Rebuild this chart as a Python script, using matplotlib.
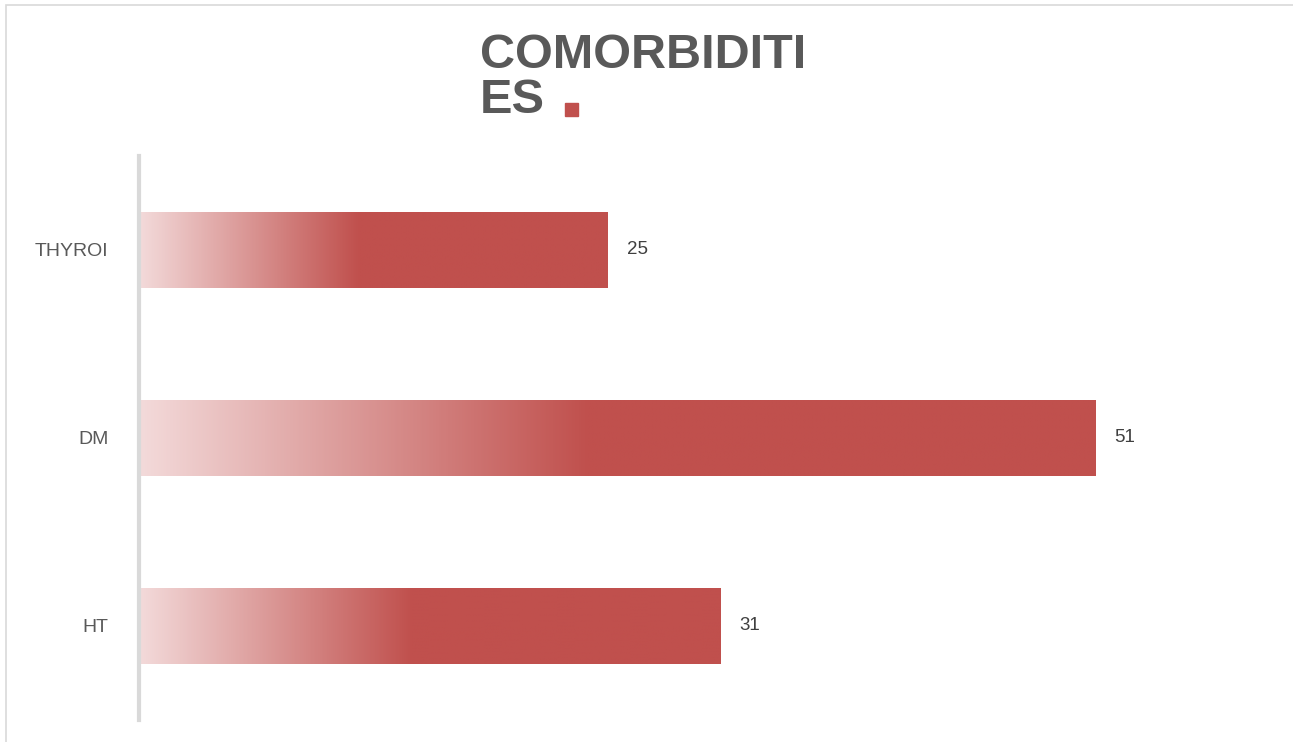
import numpy as np
import matplotlib
matplotlib.use("Agg")
import matplotlib.pyplot as plt
from matplotlib.colors import LinearSegmentedColormap
from matplotlib.patches import Rectangle

# data
categories = ["HT", "DM", "THYROI"]
values = [31, 51, 25]

plt.rcParams['font.family'] = ['Liberation Sans', 'DejaVu Sans']

bar_col = "#C0504D"
light_col = "#F3DADA"
cmap = LinearSegmentedColormap.from_list("grad", [light_col, bar_col])

fig = plt.figure(figsize=(12.93, 7.42), dpi=100)
# outer frame like the source image
fig.patches.append(Rectangle((6 / 1293, -0.01), 1.0, 1 - 5 / 742 + 0.01,
                             transform=fig.transFigure, fill=False,
                             edgecolor="#D9D9D9", lw=1.2))

ax = fig.add_axes([139 / 1293, 22 / 742, 1125 / 1293, 564 / 742])
ax.set_xlim(0, 60)
ax.set_ylim(-0.5, 2.5)

h = 0.4
ramp = np.clip(np.linspace(0, 1, 400) / 0.47, 0, 1).reshape(1, -1)
for i, v in enumerate(values):
    ax.imshow(ramp, cmap=cmap, vmin=0, vmax=1, aspect="auto",
              extent=[0, v, i - h / 2, i + h / 2], interpolation="bilinear")
    ax.text(v + 1.0, i, str(v), va="center", ha="left",
            fontsize=13.5, color="#404040")

ax.set_yticks(range(len(categories)))
ax.set_yticklabels(categories, fontsize=14, color="#595959")
ax.tick_params(axis="y", length=0, pad=22)
ax.set_xticks([])
for s in ["top", "right", "bottom"]:
    ax.spines[s].set_visible(False)
ax.spines["left"].set_color("#D9D9D9")
ax.spines["left"].set_linewidth(3)

fig.text(480 / 1293, 1 - 33 / 742, "COMORBIDITI\nES", ha="left", va="top",
         fontsize=35, fontweight="bold", color="#595959", linespacing=1.0)
fig.patches.append(Rectangle((565 / 1293, 1 - 116 / 742), 13 / 1293, 13 / 742,
                             transform=fig.transFigure, color=bar_col))

fig.savefig("out.png", dpi=100)
